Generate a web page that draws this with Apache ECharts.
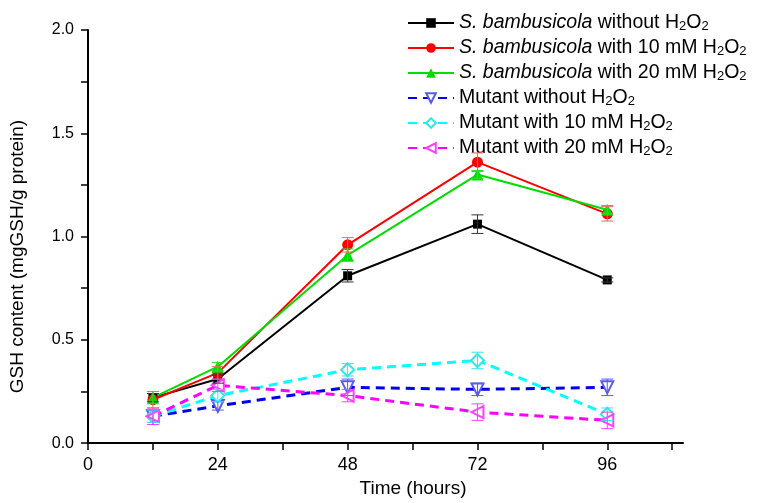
<!DOCTYPE html>
<html>
<head>
<meta charset="utf-8">
<script src="https://cdn.jsdelivr.net/npm/echarts@6/dist/echarts.min.js"></script>
<style>
  html, body { margin: 0; padding: 0; background: #fff; }
  #chart { width: 759px; height: 503px; }
</style>
</head>
<body>
<div id="chart"></div>
<script>
// time points (hours)
const hours = [12, 24, 48, 72, 96]

const seriesNames = [
  'S. bambusicola without H2O2',
  'S. bambusicola with 10 mM H2O2',
  'S. bambusicola with 20 mM H2O2',
  'Mutant without H2O2',
  'Mutant with 10 mM H2O2',
  'Mutant with 20 mM H2O2'
]

// GSH content, mgGSH/g protein
const wildNone = [0.22, 0.31, 0.81, 1.06, 0.79]
const wild10 = [0.21, 0.34, 0.96, 1.36, 1.11]
const wild20 = [0.22, 0.37, 0.91, 1.30, 1.13]
const mutNone = [0.13, 0.18, 0.27, 0.26, 0.27]
const mut10 = [0.13, 0.23, 0.355, 0.40, 0.14]
const mut20 = [0.13, 0.28, 0.23, 0.15, 0.11]

// error bars (+/-)
const wildNoneErr = [0.02, 0.02, 0.03, 0.045, 0.01]
const wild10Err = [0.04, 0.03, 0.035, 0.045, 0.035]
const wild20Err = [0.03, 0.02, 0.03, 0.02, 0.02]
const mutNoneErr = [0.03, 0.02, 0.04, 0.03, 0.04]
const mut10Err = [0.03, 0.03, 0.03, 0.04, 0.03]
const mut20Err = [0.04, 0.03, 0.03, 0.04, 0.04]

const xTicks = [0, 12, 24, 36, 48, 60, 72, 84, 96, 108]
const xLabels = [0, 24, 48, 72, 96]
const yTicks = [0, 0.25, 0.5, 0.75, 1.0, 1.25, 1.5, 1.75, 2.0]
const yLabels = [0, 0.5, 1.0, 1.5, 2.0]

const FONT = 'Liberation Sans, Arial, sans-serif'

const styles = [
  { color: '#000000', symbol: 'rect', size: 9, rotate: 0, dash: 'solid', errColor: '#333333' },
  { color: '#ff0000', symbol: 'circle', size: 11, rotate: 0, dash: 'solid', errColor: '#ff6060' },
  { color: '#00dd00', symbol: 'triangle', size: 12, rotate: 0, dash: 'solid', errColor: '#30dd30' },
  { color: '#0000ee', symbol: 'emptyTriangle', size: 12, rotate: 180, dash: [9, 6], errColor: '#5a5aee', markColor: '#5a5aee' },
  { color: '#00ffff', symbol: 'emptyDiamond', size: 13, rotate: 0, dash: [9, 6], errColor: '#30e8e8', markColor: '#30e8e8' },
  { color: '#ff00ff', symbol: 'emptyTriangle', size: 12, rotate: 90, dash: [9, 6], errColor: '#ff40ff', markColor: '#ff40ff' }
]

const values = [wildNone, wild10, wild20, mutNone, mut10, mut20]
const errors = [wildNoneErr, wild10Err, wild20Err, mutNoneErr, mut10Err, mut20Err]

const chart = echarts.init(document.getElementById('chart'))

const series = []
values.forEach((vals, i) => {
  const st = styles[i]
  series.push({
    name: seriesNames[i],
    type: 'line',
    data: hours.map((h, k) => [h, vals[k]]),
    symbol: st.symbol,
    symbolSize: st.size,
    symbolRotate: st.rotate,
    showAllSymbol: true,
    lineStyle: { color: st.color, width: st.dash === 'solid' ? 2 : 3, type: st.dash },
    itemStyle: st.markColor
      ? { color: st.markColor, borderColor: st.markColor, borderWidth: 1 }
      : { color: st.color },
    z: 3
  })
  series.push({
    name: seriesNames[i] + ' err',
    type: 'custom',
    data: hours.map((h, k) => [h, vals[k], errors[i][k]]),
    renderItem: function (params, api) {
      const x = api.value(0)
      const y = api.value(1)
      const e = api.value(2)
      const top = api.coord([x, y + e])
      const bot = api.coord([x, y - e])
      const w = 6
      const style = { stroke: st.errColor, lineWidth: 1 }
      return {
        type: 'group',
        children: [
          { type: 'line', shape: { x1: top[0], y1: top[1], x2: bot[0], y2: bot[1] }, style: style },
          { type: 'line', shape: { x1: top[0] - w, y1: top[1], x2: top[0] + w, y2: top[1] }, style: style },
          { type: 'line', shape: { x1: bot[0] - w, y1: bot[1], x2: bot[0] + w, y2: bot[1] }, style: style }
        ]
      }
    },
    z: 4
  })
})

const legendLabel = function (name) {
  return name
    .replace('S. bambusicola', '{i|S. bambusicola}')
    .replace('H2O2', 'H{s|2}O{s|2}')
}

const option = {
  backgroundColor: '#ffffff',
  animation: false,
  grid: { left: 82, right: 76, top: 30, bottom: 50 },
  legend: {
    data: seriesNames,
    orient: 'vertical',
    left: 402,
    top: 8,
    itemWidth: 46,
    itemHeight: 12,
    itemGap: 5,
    formatter: legendLabel,
    textStyle: {
      fontFamily: FONT,
      fontSize: 19.5,
      color: '#000',
      rich: {
        i: { fontFamily: FONT, fontSize: 19.5, fontStyle: 'italic', color: '#000' },
        s: { fontFamily: FONT, fontSize: 13, color: '#000', padding: [6, 0, 0, 0] }
      }
    }
  },
  xAxis: {
    type: 'value',
    min: 0,
    max: 110,
    interval: 12,
    name: 'Time (hours)',
    nameLocation: 'middle',
    nameGap: 32,
    nameTextStyle: { fontFamily: FONT, fontSize: 19, color: '#000', padding: [0, 0, 0, 55] },
    axisLine: { show: true, onZero: false, lineStyle: { color: '#000', width: 2 } },
    axisTick: { show: true, inside: false, length: 7, customValues: xTicks, lineStyle: { color: '#000', width: 1.5 } },
    axisLabel: { customValues: xLabels, fontFamily: FONT, fontSize: 18, color: '#000', margin: 13 },
    splitLine: { show: false }
  },
  yAxis: {
    type: 'value',
    min: 0,
    max: 2,
    interval: 0.25,
    name: 'GSH content (mgGSH/g protein)',
    nameLocation: 'middle',
    nameGap: 61,
    nameRotate: 90,
    nameTextStyle: { fontFamily: FONT, fontSize: 19, color: '#000', padding: [0, 40, 0, 0] },
    axisLine: { show: true, onZero: false, lineStyle: { color: '#000', width: 2 } },
    axisTick: { show: true, inside: false, length: 7, customValues: yTicks, lineStyle: { color: '#000', width: 1.5 } },
    axisLabel: {
      customValues: yLabels,
      fontFamily: FONT,
      fontSize: 16,
      color: '#000',
      margin: 14,
      formatter: v => v.toFixed(1)
    },
    splitLine: { show: false }
  },
  series: series
}

chart.setOption(option)
</script>
</body>
</html>
